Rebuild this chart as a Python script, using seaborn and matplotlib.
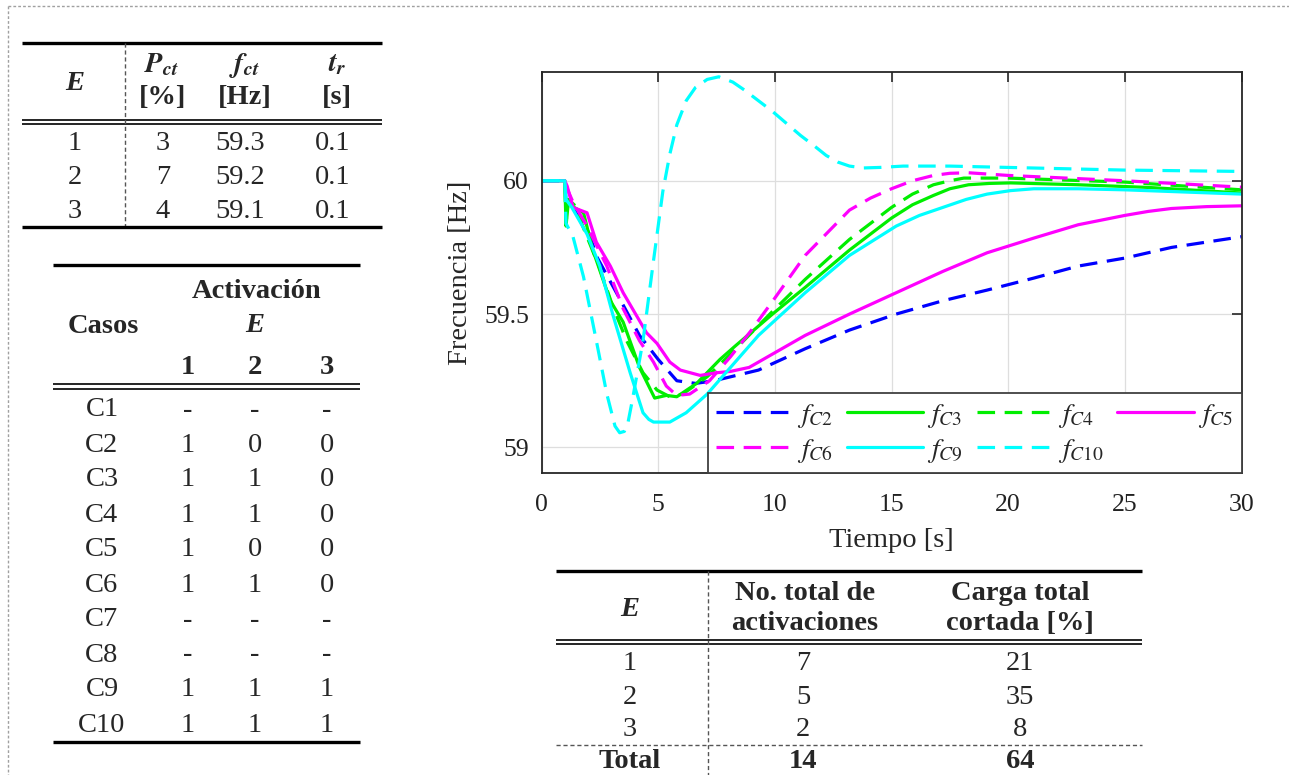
import numpy as np
import pandas as pd
import matplotlib
matplotlib.use("Agg")
import matplotlib.pyplot as plt
import seaborn as sns
from matplotlib.lines import Line2D

# ---------------- data ----------------
t_c2 = [0, 1, 1.05, 1.4, 2.0, 2.4, 3.4, 4.2, 5.0, 5.8, 6.6, 7.4, 9.3, 11.3, 13.2, 15.2, 17.2, 19.1, 21.1, 23.0, 25.0, 27.0, 30.0]
f_c2 = [60, 60, 59.92, 59.89, 59.81, 59.71, 59.55, 59.42, 59.33, 59.25, 59.24, 59.25, 59.29, 59.37, 59.44, 59.50, 59.55, 59.59, 59.635, 59.68, 59.71, 59.75, 59.79]

t_c3 = [0, 1, 1.05, 1.15, 1.4, 1.8, 2.2, 2.95, 3.5, 4.2, 4.85, 5.35, 5.8, 6.65, 7.65, 8.3, 9.9, 11.3, 13.2, 15.0, 15.9, 16.8, 17.5, 18.3, 19.2, 20.1, 23.0, 26.0, 30.0]
f_c3 = [60, 60, 59.83, 59.92, 59.90, 59.88, 59.74, 59.55, 59.47, 59.30, 59.185, 59.195, 59.19, 59.24, 59.33, 59.38, 59.50, 59.60, 59.74, 59.86, 59.91, 59.945, 59.97, 59.985, 59.99, 59.992, 59.985, 59.975, 59.954]

t_c4 = [0, 1, 1.05, 1.15, 1.4, 1.95, 2.5, 3.05, 3.65, 4.35, 4.95, 5.5, 6.05, 7.1, 8.1, 9.9, 11.3, 13.2, 15.0, 15.9, 16.8, 17.5, 18.1, 20.0, 25.0, 30.0]
f_c4 = [60, 60, 59.84, 59.93, 59.91, 59.79, 59.67, 59.53, 59.40, 59.28, 59.215, 59.19, 59.20, 59.265, 59.35, 59.51, 59.63, 59.78, 59.90, 59.95, 59.985, 60.0, 60.01, 60.01, 59.995, 59.966]

t_c5 = [0, 1, 1.1, 1.35, 1.95, 2.35, 2.95, 3.5, 4.1, 4.5, 4.95, 5.5, 5.95, 6.8, 7.5, 8.1, 8.9, 9.7, 11.3, 13.2, 15.2, 17.2, 19.1, 21.1, 23.0, 25.0, 26.0, 27.0, 28.5, 30.0]
f_c5 = [60, 60, 59.98, 59.90, 59.88, 59.77, 59.68, 59.58, 59.49, 59.43, 59.39, 59.32, 59.29, 59.27, 59.28, 59.285, 59.30, 59.34, 59.42, 59.50, 59.58, 59.66, 59.73, 59.785, 59.835, 59.87, 59.885, 59.896, 59.903, 59.906]

t_c6 = [0, 1, 1.1, 1.35, 1.95, 2.8, 3.5, 4.2, 4.8, 5.35, 5.8, 6.35, 7.2, 8.1, 9.0, 10.0, 11.3, 13.2, 14.1, 15.0, 15.9, 16.8, 17.5, 18.3, 20.0, 25.0, 30.0]
f_c6 = [60, 60, 59.97, 59.92, 59.83, 59.68, 59.52, 59.40, 59.32, 59.23, 59.195, 59.20, 59.25, 59.34, 59.44, 59.56, 59.72, 59.89, 59.935, 59.97, 60.0, 60.02, 60.028, 60.03, 60.02, 60.0, 59.976]

t_c9 = [0, 1, 1.05, 1.3, 1.95, 2.5, 3.05, 3.8, 4.35, 4.6, 4.8, 5.5, 6.2, 7.1, 8.1, 9.3, 11.3, 13.2, 15.2, 16.2, 17.2, 18.2, 19.1, 20.1, 21.1, 23.0, 25.0, 30.0]
f_c9 = [60, 60, 59.93, 59.90, 59.80, 59.68, 59.50, 59.28, 59.13, 59.105, 59.095, 59.095, 59.13, 59.20, 59.30, 59.42, 59.58, 59.72, 59.83, 59.87, 59.90, 59.93, 59.95, 59.963, 59.97, 59.97, 59.966, 59.95]

t_c10 = [0, 1, 1.05, 1.35, 1.8, 2.35, 2.8, 3.15, 3.35, 3.55, 3.7, 3.9, 4.35, 4.8, 5.2, 5.5, 5.8, 6.2, 6.6, 7.1, 7.6, 8.2, 8.7, 9.3, 9.9, 10.5, 11.1, 11.7, 12.2, 12.7, 13.2, 13.8, 14.5, 15.5, 17.5, 20.0, 25.0, 30.0]
f_c10 = [60, 60, 59.84, 59.79, 59.64, 59.40, 59.20, 59.08, 59.055, 59.06, 59.09, 59.18, 59.40, 59.70, 59.96, 60.10, 60.21, 60.30, 60.35, 60.38, 60.39, 60.37, 60.34, 60.30, 60.26, 60.215, 60.17, 60.13, 60.095, 60.07, 60.055, 60.048, 60.05, 60.055, 60.055, 60.05, 60.04, 60.035]

series_names = ["C2", "C3", "C4", "C5", "C6", "C9", "C10"]
series_t = [t_c2, t_c3, t_c4, t_c5, t_c6, t_c9, t_c10]
series_f = [f_c2, f_c3, f_c4, f_c5, f_c6, f_c9, f_c10]
series_colors = ["#0000ff", "#00ee00", "#00ee00", "#ff00ff", "#ff00ff", "#00ffff", "#00ffff"]
series_dashed = [True, False, True, False, True, False, True]

x_ticks = [0, 5, 10, 15, 20, 25, 30]
y_ticks = [59, 59.5, 60]
y_tick_labels = ["59", "59.5", "60"]

# Table 1
t1_E = ["1", "2", "3"]
t1_Pct = ["3", "7", "4"]
t1_fct = ["59.3", "59.2", "59.1"]
t1_tr = ["0.1", "0.1", "0.1"]

# Table 2
casos = ["C1", "C2", "C3", "C4", "C5", "C6", "C7", "C8", "C9", "C10"]
act_e1 = ["-", "1", "1", "1", "1", "1", "-", "-", "1", "1"]
act_e2 = ["-", "0", "1", "1", "0", "1", "-", "-", "1", "1"]
act_e3 = ["-", "0", "0", "0", "0", "0", "-", "-", "1", "1"]

# Table 3
t3_E = ["1", "2", "3"]
t3_n_act = ["7", "5", "2"]
t3_carga = ["21", "35", "8"]
t3_total = ["Total", "14", "64"]

# ---------------- style ----------------
sns.set_style("white")
plt.rcParams["font.family"] = ["Liberation Serif", "DejaVu Serif"]
plt.rcParams["mathtext.fontset"] = "stix"

W, H = 1289, 775
fig = plt.figure(figsize=(W / 100, H / 100), dpi=100)


def fx(x):
    return x / W


def fy(y):
    return 1 - y / H


def hline(x0, x1, y, lw, ls="-", color="black"):
    fig.add_artist(Line2D([fx(x0), fx(x1)], [fy(y), fy(y)], transform=fig.transFigure,
                          lw=lw, ls=ls, color=color, solid_capstyle="butt"))


def vline(x, y0, y1, lw, ls="-", color="black"):
    fig.add_artist(Line2D([fx(x), fx(x)], [fy(y0), fy(y1)], transform=fig.transFigure,
                          lw=lw, ls=ls, color=color))


TS = 20.5


def txt(x, y, s, bold=False, italic=False, size=TS):
    fig.text(fx(x), fy(y), s, ha="center", va="center", fontsize=size,
             fontweight="bold" if bold else "normal",
             fontstyle="italic" if italic else "normal")


# figure border (dotted)
hline(8, W, 6, 1.0, ls=(0, (2, 1.5)), color="#a0a0a0")
vline(8, 6, H, 1.0, ls=(0, (2, 1.5)), color="#a0a0a0")

# ---------------- chart ----------------
ax = fig.add_axes([541.5 / W, 1 - 473 / H, 700 / W, 401.3 / H])
for name, tt, ff, col, dsh in zip(series_names, series_t, series_f, series_colors, series_dashed):
    df = pd.DataFrame({"t": tt, "f": ff})
    ls = (0, (5.5, 3.0)) if dsh else "-"
    sns.lineplot(data=df, x="t", y="f", ax=ax, color=col, linestyle=ls, lw=2.3,
                 estimator=None, sort=False, label=r"$f_{\mathit{" + name + "}}$")

ax.set_xlim(0, 30)
ax.set_ylim(58.904, 60.409)
ax.set_xticks(x_ticks)
ax.set_yticks(y_ticks)
ax.set_yticklabels(y_tick_labels)
ax.grid(True, color="#dedede", lw=0.9)
ax.set_axisbelow(True)
for sp in ax.spines.values():
    sp.set_linewidth(1.3)
    sp.set_color("#262626")
ax.tick_params(direction="in", top=True, right=True, length=7, width=1.2,
               labelsize=18.5, pad=9, colors="#262626")
ax.tick_params(axis="x", pad=15)
ax.tick_params(labelcolor="#222222")
ax.set_xlabel("Tiempo [s]", fontsize=20.5, labelpad=9)
ax.set_ylabel("Frecuencia [Hz]", fontsize=20.5, labelpad=8)

handles, labels = ax.get_legend_handles_labels()
# row-wise ordering for a 2-row, 4-column legend
order = [0, 4, 1, 5, 2, 6, 3]
leg = ax.legend([handles[i] for i in order], [labels[i] for i in order], ncol=4,
                loc="lower right", bbox_to_anchor=(1.0, 0.0),
                borderaxespad=0, fontsize=20, handlelength=2.75, handletextpad=0.15,
                columnspacing=0.5, labelspacing=0.25, frameon=True, fancybox=False,
                edgecolor="#404040", framealpha=1, borderpad=0.3)
leg.get_frame().set_linewidth(1.3)

# ---------------- table 1 ----------------
hline(22, 382, 42.5, 2.4)
txt(75, 83, "E", bold=True, italic=True)
txt(162, 65, r"$\mathbfit{P}_{\mathbfit{ct}}$")
txt(163, 98, "[%]", bold=True)
txt(245, 65, r"$\mathbfit{f}_{\mathbfit{ct}}$")
txt(245, 98, "[Hz]", bold=True)
txt(337, 65, r"$\mathbfit{t}_{\mathbfit{r}}$")
txt(337, 98, "[s]", bold=True)
hline(22, 382, 119.5, 1.2)
hline(22, 382, 123.5, 1.2)
vline(125, 42.5, 227, 1.0, ls=(0, (3, 2)), color="#555555")
for i in range(len(t1_E)):
    y = 143 + 34.5 * i
    txt(75, y, t1_E[i])
    txt(163, y, t1_Pct[i])
    txt(240, y, t1_fct[i])
    txt(333, y, t1_tr[i])
hline(22, 382, 227, 2.4)

# ---------------- table 2 ----------------
hline(53, 360, 265, 2.4)
txt(257, 292, "Activación", bold=True)
txt(255, 325, "E", bold=True, italic=True)
txt(103, 327, "Casos", bold=True)
txt(188, 368, "1", bold=True)
txt(255, 368, "2", bold=True)
txt(327, 368, "3", bold=True)
hline(53, 360, 384, 1.2)
hline(53, 360, 388.5, 1.2)
for i in range(len(casos)):
    y = 410 + 35 * i
    txt(102, y, casos[i])
    txt(188, y, act_e1[i])
    txt(255, y, act_e2[i])
    txt(327, y, act_e3[i])
hline(53, 360, 742, 2.4)

# ---------------- table 3 ----------------
hline(556, 1142, 570.5, 2.4)
txt(630, 610, "E", bold=True, italic=True)
txt(805, 594, "No. total de", bold=True)
txt(805, 624, "activaciones", bold=True)
txt(1020, 594, "Carga total", bold=True)
txt(1020, 624, "cortada [%]", bold=True)
hline(556, 1142, 640, 1.2)
hline(556, 1142, 644, 1.2)
vline(708, 570.5, H, 1.0, ls=(0, (3, 2)), color="#555555")
for i in range(len(t3_E)):
    y = 664 + 33 * i
    txt(630, y, t3_E[i])
    txt(803, y, t3_n_act[i])
    txt(1020, y, t3_carga[i])
hline(556, 1142, 745, 1.0, ls=(0, (3, 2)), color="#555555")
txt(630, 762, t3_total[0], bold=True)
txt(803, 762, t3_total[1], bold=True)
txt(1020, 762, t3_total[2], bold=True)

fig.savefig("out.png", dpi=100)
